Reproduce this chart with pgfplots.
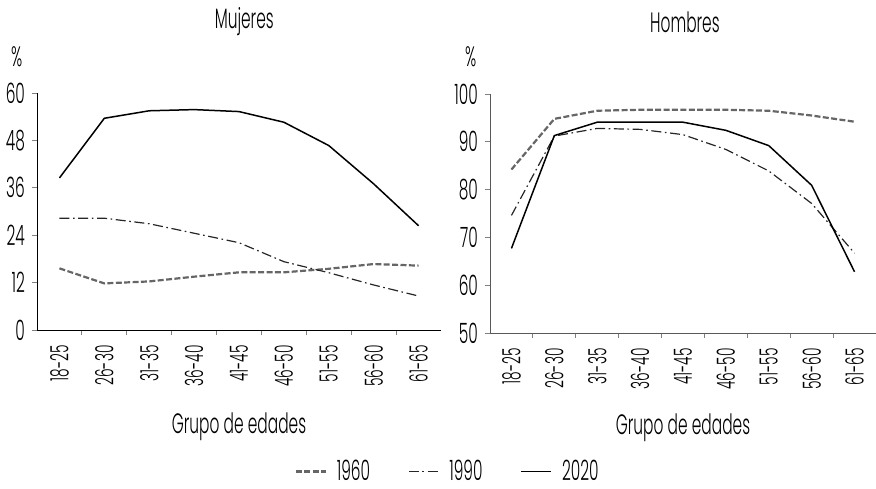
\documentclass[border=0pt]{standalone}
\usepackage{fontspec}
\setmainfont{Poppins}[FakeStretch=0.55, UprightFont=* Light]
\usepackage{pgfplots}
\pgfplotsset{compat=1.18}
\newcommand\fs{\fontsize{14}{16}\selectfont}
\newcommand\fsx{\fontsize{12.5}{14}\selectfont}

\pgfplotsset{
  panel/.style={
    scale only axis,
    axis x line=bottom, axis y line=left,
    axis line style={-, line width=0.5pt},
    xmin=-0.5, xmax=8.5,
    xtick={0,...,8},
    xticklabels={18-25,26-30,31-35,36-40,41-45,46-50,51-55,56-60,61-65},
    minor xtick={0.5,1.5,...,7.5},
    major x tick style={draw=none},
    tick align=outside,
    major tick length=2.5pt, minor tick length=2.5pt,
    tick style={line width=0.5pt},
    x tick label style={rotate=90, anchor=east, font=\fsx, inner xsep=5pt},
    y tick label style={font=\fs},
    /pgf/number format/assume math mode=true,
    clip=false,
  },
  s1960/.style={draw=black!60, line width=1.1pt, dash pattern=on 3pt off 1.2pt},
  s1990/.style={draw=black!85, line width=0.6pt, dash pattern=on 5pt off 1.8pt on 0.8pt off 1.8pt},
  s2020/.style={draw=black, line width=0.75pt},
}

\begin{document}
\begin{tikzpicture}
\path[use as bounding box] (0,0) rectangle (438pt,244pt);

% Mujeres
\begin{axis}[panel,
  at={(18.5pt,79pt)}, anchor=south west,
  width=202pt, height=118.5pt,
  ymin=0, ymax=60, ytick={0,12,...,60},
  axis line style={draw=black},
  legend columns=3,
  legend style={at={(axis description cs:1.019,-0.597)}, anchor=center,
    draw=none, fill=none, font=\fs,
    /tikz/every odd column/.append style={column sep=3pt},
    /tikz/every even column/.append style={column sep=17pt}},
  legend image code/.code={\draw[#1] (0pt,0pt) -- (15pt,0pt);},
]
\addplot[s1960] coordinates {(0,15.6) (1,11.8) (2,12.3) (3,13.5) (4,14.6) (5,14.6) (6,15.5) (7,16.7) (8,16.3)};
\addlegendentry{1960}
\addplot[s1990] coordinates {(0,28.3) (1,28.3) (2,26.9) (3,24.5) (4,22.1) (5,17.3) (6,14.5) (7,11.4) (8,8.6)};
\addlegendentry{1990}
\addplot[s2020] coordinates {(0,38.5) (1,53.6) (2,55.5) (3,55.8) (4,55.3) (5,52.6) (6,46.7) (7,37.0) (8,26.4)};
\addlegendentry{2020}
\node[font=\fs] at (axis description cs:0.513,1.302) {Mujeres};
\node[font=\fs] at (axis description cs:-0.05,1.152) {\%};
\node[font=\fs] at (axis description cs:0.5,-0.41) {Grupo de edades};
\end{axis}

% Hombres
\begin{axis}[panel,
  at={(245pt,77.5pt)}, anchor=south west,
  width=193pt, height=119.5pt,
  ymin=50, ymax=100, ytick={50,60,...,100},
  axis line style={draw=black!65},
]
\addplot[s1960] coordinates {(0,84.2) (1,94.8) (2,96.5) (3,96.7) (4,96.7) (5,96.7) (6,96.5) (7,95.5) (8,94.2)};
\addplot[s1990] coordinates {(0,74.6) (1,91.2) (2,92.8) (3,92.6) (4,91.5) (5,88.4) (6,83.9) (7,77.1) (8,66.7)};
\addplot[s2020] coordinates {(0,67.7) (1,91.3) (2,94.1) (3,94.1) (4,94.1) (5,92.4) (6,89.2) (7,80.9) (8,62.8)};
\node[font=\fs] at (axis description cs:0.505,1.30) {Hombres};
\node[font=\fs] at (axis description cs:-0.05,1.155) {\%};
\node[font=\fs] at (axis description cs:0.5,-0.395) {Grupo de edades};
\end{axis}
\end{tikzpicture}
\end{document}
